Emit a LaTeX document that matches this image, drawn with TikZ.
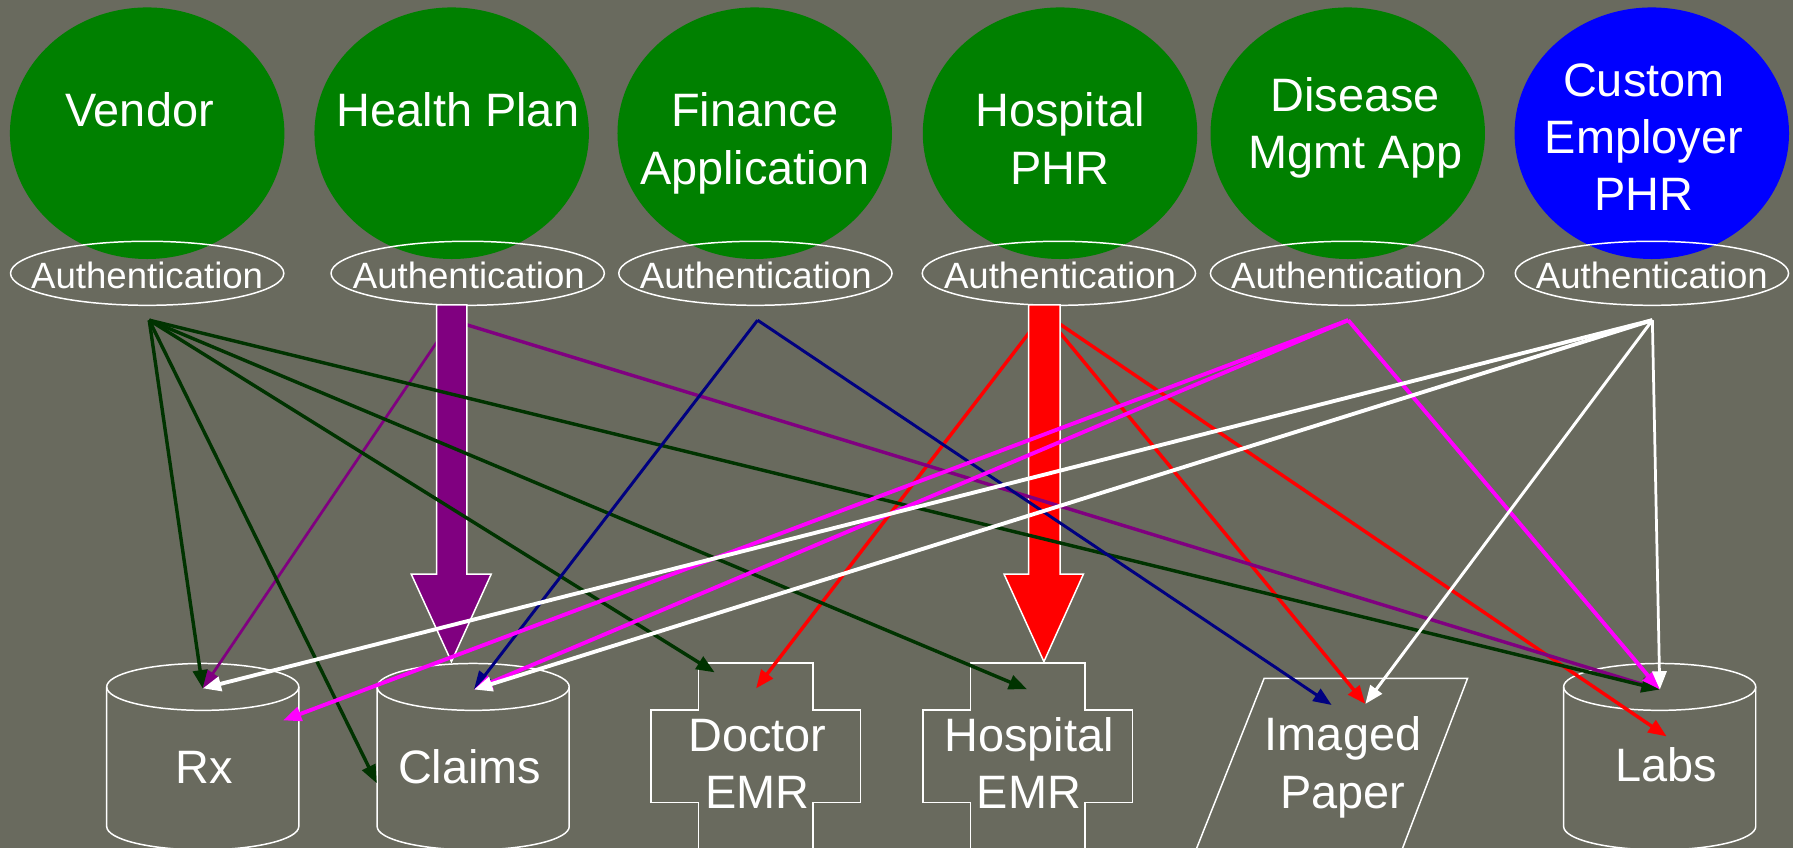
\documentclass[tikz,border=0pt]{standalone}
\usepackage{fontspec}
\setmainfont{Liberation Sans}
\usetikzlibrary{arrows.meta,shapes.geometric}
\definecolor{bg}{RGB}{105,106,94}
\definecolor{dkgreen}{RGB}{0,51,0}
\definecolor{pgreen}{RGB}{0,128,0}
\definecolor{pblue}{RGB}{0,0,255}
\definecolor{ppurple}{RGB}{128,0,128}
\definecolor{pnavy}{RGB}{0,0,128}
\definecolor{pred}{RGB}{255,0,0}
\definecolor{pmag}{RGB}{255,0,255}
\begin{document}
\begin{tikzpicture}[x=1pt,y=-1pt,
  big/.style={font=\fontsize{41}{50}\selectfont, text=white, align=center, anchor=base, inner sep=0pt},
  authtxt/.style={font=\fontsize{32}{36}\selectfont, text=white, anchor=base, inner sep=0pt},
  topell/.style={ellipse, minimum width=240pt, minimum height=220pt, inner sep=0pt, outer sep=0pt},
  authell/.style={ellipse, draw=white, line width=1.3pt, minimum width=239pt, minimum height=56pt, inner sep=0pt},
  outl/.style={draw=white, line width=1.3pt},
  fat/.style={draw=white, line width=1.3pt},
  conn/.style={line width=3pt, -{Triangle[length=16pt,width=12.5pt]}},
  cylpic/.pic={
    \draw[outl] (0,0) ellipse [x radius=84pt, y radius=20.5pt];
    \draw[outl] (-84,0) -- (-84,122) arc[start angle=180, end angle=360, x radius=84pt, y radius=20.5pt] -- (84,0);
  },
  crosspic/.pic={
    \draw[outl] (-50,190) -- (-50,122) -- (-91.5,122) -- (-91.5,41) -- (-50,41) -- (-50,0) -- (50,0) -- (50,41) -- (91.5,41) -- (91.5,122) -- (50,122) -- (50,190);
  }
]
\fill[bg] (0,0) rectangle (1568,742);
\useasboundingbox (0,0) rectangle (1568,742);

% top ellipses
\node[topell, fill=pgreen] (vendor)  at (128.7,116.5) {};
\node[topell, fill=pgreen] (health)  at (395,116.5) {};
\node[topell, fill=pgreen] (finance) at (660,116.5) {};
\node[topell, fill=pgreen] (hosp)    at (927,116.5) {};
\node[topell, fill=pgreen] (disease) at (1178.6,116.5) {};
\node[topell, fill=pblue]  (custom)  at (1444.5,116.5) {};

% multi-line texts: base anchor = baseline of the last line
\node[big] (vendorT)  at (122,110.8) {Vendor};
\node[big] (healthT)  at (400.5,110.8) {Health Plan};
\node[big] (financeT) at (660,161) {Finance\\Application};
\node[big] (hospT)    at (927,161) {Hospital\\PHR};
\node[big] (diseaseT) at (1185.3,147.2) {Disease\\Mgmt App};
\node[big] (customT)  at (1437.6,184) {Custom\\Employer\\PHR};

% authentication
\node[authell] (a1) at (128.7,239) {};
\node[authell] (a2) at (409,239) {};
\node[authell] (a3) at (660.6,239) {};
\node[authell] (a4) at (926,239) {};
\node[authell] (a5) at (1178,239) {};
\node[authell] (a6) at (1444.6,239) {};
\node[authtxt] (t1) at (128.7,252) {Authentication};
\node[authtxt] (t2) at (410,252) {Authentication};
\node[authtxt] (t3) at (661,252) {Authentication};
\node[authtxt] (t4) at (927,252) {Authentication};
\node[authtxt] (t5) at (1178,252) {Authentication};
\node[authtxt] (t6) at (1444.6,252) {Authentication};

% bottom shapes
\pic at (177.3,600.7) {cylpic};
\pic at (413.8,600.7) {cylpic};
\pic at (1451.4,600.7) {cylpic};
\pic at (660.8,580) {crosspic};
\pic at (898.8,580) {crosspic};
\draw[outl] (1043.2,750) -- (1105.5,593.2) -- (1283.4,593.2) -- (1223.4,750);

\node[big] (rx)     at (178.5,685) {Rx};
\node[big] (claims) at (410.8,685) {Claims};
\node[big] (doctor) at (662.5,707) {Doctor\\EMR};
\node[big] (hemr)   at (899.8,707) {Hospital\\EMR};
\node[big] (paper)  at (1174.5,706.6) {Imaged\\Paper};
\node[big] (labs)   at (1457,683.6) {Labs};

% sources
\coordinate (sV) at (130.5,280);
\coordinate (sH) at (395,280);
\coordinate (sF) at (662.5,280);
\coordinate (sP) at (913,274);
\coordinate (sD) at (1179,280);
\coordinate (sC) at (1445,280);
% targets
\coordinate (rxTop)  at (177.3,602);
\coordinate (rxSide) at (247.5,630);
\coordinate (clTop)  at (414.5,603);
\coordinate (clLeft) at (329.5,685);
\coordinate (drTL)   at (625,588);
\coordinate (drC)    at (661.2,602);
\coordinate (heT)    at (898.2,602.8);
\coordinate (ipA)    at (1164.5,616.5);
\coordinate (ipB)    at (1194,615.6);
\coordinate (lbTop)  at (1451.5,603);
\coordinate (lbIn)   at (1457.5,644);

% red thin lines (under the fat red arrow)
\draw[conn, pred] (sP) -- (drC);
\draw[conn, pred] (sP) -- (ipB);
\draw[conn, pred] (sP) -- (lbIn);
\filldraw[fat, fill=pred] (899.5,266.7) -- (927.1,266.7) -- (927.1,502) -- (947.5,502) -- (912.9,578.6) -- (878,502) -- (899.5,502) -- cycle;

% purple thin lines (under the fat purple arrow)
\draw[conn, ppurple, line width=2.4pt] (sH) -- (rxTop);
\draw[conn, ppurple] (sH) -- (lbTop);
\filldraw[fat, fill=ppurple] (381.9,266.7) -- (408.2,266.7) -- (408.2,502) -- (429.6,502) -- (394.8,578.6) -- (359.6,502) -- (381.9,502) -- cycle;

% vendor
\draw[conn, dkgreen] (sV) -- (rxTop);
\draw[conn, dkgreen] (sV) -- (clLeft);
\draw[conn, dkgreen] (sV) -- (drTL);
\draw[conn, dkgreen] (sV) -- (heT);
\draw[conn, dkgreen] (sV) -- (lbTop);
% finance
\draw[conn, pnavy, line width=2.6pt] (sF) -- (clTop);
\draw[conn, pnavy, line width=2.6pt] (sF) -- (ipA);
% disease
\draw[conn, pmag, line width=3.4pt] (sD) -- (rxSide);
\draw[conn, pmag, line width=3.4pt] (sD) -- (clTop);
\draw[conn, pmag, line width=3.4pt] (sD) -- (lbTop);
% custom
\draw[conn, white, line width=3.4pt] (sC) -- (rxTop);
\draw[conn, white, line width=3.4pt] (sC) -- (clTop);
\draw[conn, white, line width=2.6pt] (sC) -- (ipB);
\draw[conn, white, line width=2.4pt] (sC) -- (lbTop);
\end{tikzpicture}
\end{document}
